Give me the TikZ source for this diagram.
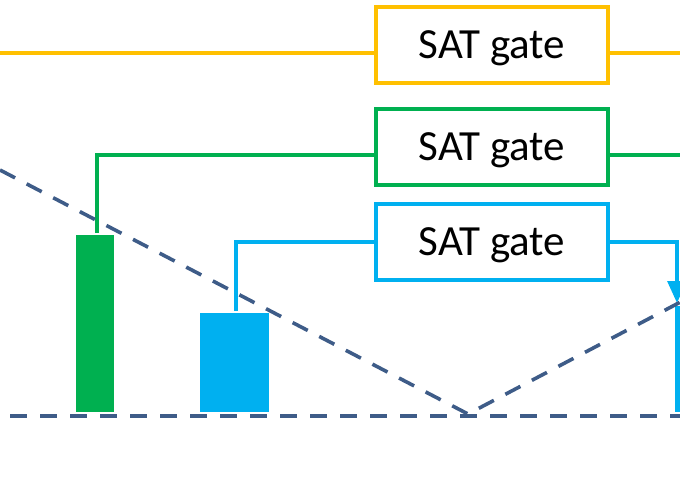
\documentclass[tikz,border=0pt]{standalone}
\usepackage{fontspec}
\setmainfont{Carlito}
\usetikzlibrary{arrows.meta}
\definecolor{gateyellow}{HTML}{FFC000}
\definecolor{gategreen}{HTML}{00B050}
\definecolor{gateblue}{HTML}{00B0F0}
\definecolor{slate}{HTML}{3E5C88}
\begin{document}
\begin{tikzpicture}[x=1pt,y=-1pt,
  gatebox/.style={draw, line width=3.2pt, fill=white, minimum width=232pt, minimum height=76pt,
    inner sep=0pt, text depth=0pt, font=\fontsize{43}{50}\selectfont},
  wire/.style={line width=3.2pt},
  guide/.style={draw=slate, line width=3.6pt, dash pattern=on 17pt off 13pt}]
\useasboundingbox (0,0) rectangle (680,500);
\clip (0,0) rectangle (680,500);

% bars
\fill[gategreen] (76,235) rectangle (114,412);
\fill[gateblue] (200,313) rectangle (269,412);
\fill[gateblue] (675,306) rectangle (700,412);

% gates
\node[gatebox, draw=gateyellow] (gy) at (492,45) {SAT gate};
\node[gatebox, draw=gategreen] (gg) at (492,147) {SAT gate};
\node[gatebox, draw=gateblue] (gb) at (492,242) {SAT gate};

\coordinate (yl) at (0,53);
\coordinate (yr) at (680,53);
\coordinate (gtop) at (97,233);
\coordinate (gr) at (680,155);
\coordinate (btop) at (236,311);
\coordinate (bend) at (677,303);

% wires
\draw[wire, gateyellow] (yl) -- (yl -| gy.west);
\draw[wire, gateyellow] (yr -| gy.east) -- (yr);
\draw[wire, gategreen] (gtop) |- (gg.west |- 0,155);
\draw[wire, gategreen] (gg.east |- gr) -- (gr);
\draw[wire, gateblue] (btop) |- (gb.west);
\draw[wire, gateblue, -{Triangle[length=22pt,width=19pt]}] (gb.east) -| (bend);

% guide lines
\draw[guide] (0,170) -- (468,414) -- (690,297);
\draw[guide] (10,416) -- (690,416);
\end{tikzpicture}
\end{document}
